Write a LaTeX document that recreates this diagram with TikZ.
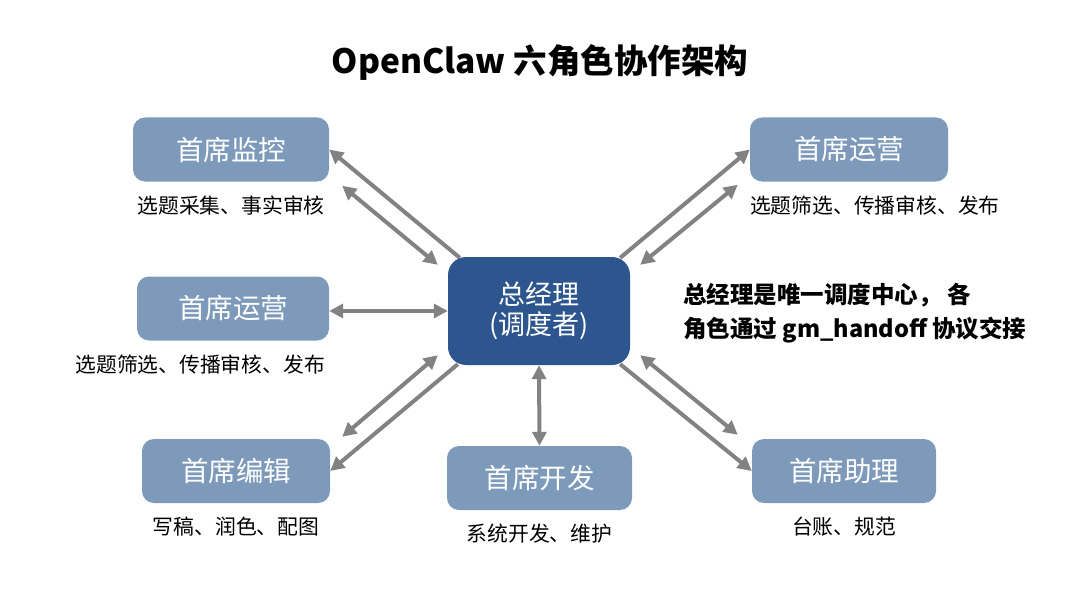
\documentclass[tikz,border=0pt]{standalone}
\usepackage{fontspec}
\setmainfont{Noto Sans CJK SC}
\usepackage{tikz}
\usetikzlibrary{arrows.meta, positioning, backgrounds}
\definecolor{rolefill}{RGB}{125,154,187}
\definecolor{gmfill}{RGB}{46,86,142}
\definecolor{linkgray}{RGB}{130,130,130}

\begin{document}
\begin{tikzpicture}[
    x=1pt, y=-1pt,
    node distance=14pt,
    rolebox/.style={rectangle, rounded corners=12pt, fill=rolefill, text=white, minimum height=64pt, inner sep=0pt, font=\fontsize{27.5}{30}\selectfont},
    gmbox/.style={rectangle, rounded corners=18pt, fill=gmfill, text=white, minimum width=182pt, minimum height=108pt, align=center, font=\fontsize{27}{30}\selectfont},
    desc/.style={inner sep=0pt, font=\fontsize{20.8}{24}\selectfont},
    arrow/.style={-{Triangle[length=14pt, width=14pt]}, line width=4pt, draw=linkgray},
    dblarrow/.style={{Triangle[length=14pt, width=14pt]}-{Triangle[length=14pt, width=14pt]}, line width=4pt, draw=linkgray}
]
\useasboundingbox (0,0) rectangle (1080,602);

% Title
\node[font=\fontsize{33.5}{36}\selectfont\bfseries] (title) at (540,62) {OpenClaw 六角色协作架构};

% Dispatcher
\node[gmbox] (gm) at (539,311) {总经理\\(调度者)};
\node[inner sep=0pt, anchor=west, align=left, font=\fontsize{23.5}{34}\selectfont\bfseries] (note) at (683,313) {总经理是唯一调度中心， 各\\角色通过 gm\_handoff 协议交接};

% Roles
\node[rolebox, minimum width=196pt] (mon) at (231,149.5) {首席监控};
\node[rolebox, minimum width=198pt] (opsR) at (849,149.5) {首席运营};
\node[rolebox, minimum width=192pt] (opsL) at (233,308.5) {首席运营};
\node[rolebox, minimum width=188pt] (edit) at (236,471) {首席编辑};
\node[rolebox, minimum width=185pt] (dev) at (539.5,478) {首席开发};
\node[rolebox, minimum width=184pt] (asst) at (844,471) {首席助理};

% Duties
\node[desc, below=of mon] (monsub) {选题采集、事实审核};
\node[desc, below right=14pt and 0pt of opsR.south west] (opsRsub) {选题筛选、传播审核、发布};
\node[desc, below left=14pt and 4pt of opsL.south east] (opsLsub) {选题筛选、传播审核、发布};
\node[desc, below=of edit] (editsub) {写稿、润色、配图};
\node[desc, below=of dev] (devsub) {系统开发、维护};
\node[desc, below=of asst] (asstsub) {台账、规范};

% Connections
\begin{pgfonlayer}{background}
\draw[arrow] ([shift={(12,1)}]gm.north west) -- (mon.east);
\draw[dblarrow] ([shift={(-10,8)}]gm.north west) -- ([shift={(13,4)}]mon.south east);
\draw[arrow] ([shift={(-10,1)}]gm.north east) -- (opsR.west);
\draw[dblarrow] ([shift={(10,8)}]gm.north east) -- ([shift={(-12,3)}]opsR.south west);
\draw[dblarrow] (opsL.east |- gm.west) -- (gm.west);
\draw[dblarrow] ([shift={(-10,-10)}]gm.south west) -- ([shift={(12,-2)}]edit.north east);
\draw[arrow] ([shift={(10,-1)}]gm.south west) -- (edit.east);
\draw[dblarrow] ([shift={(10,-10)}]gm.south east) -- ([shift={(-14,-4)}]asst.north west);
\draw[arrow] ([shift={(-10,-1)}]gm.south east) -- (asst.west);
\draw[dblarrow] (gm.south) -- (dev.north);
\end{pgfonlayer}

\end{tikzpicture}
\end{document}
